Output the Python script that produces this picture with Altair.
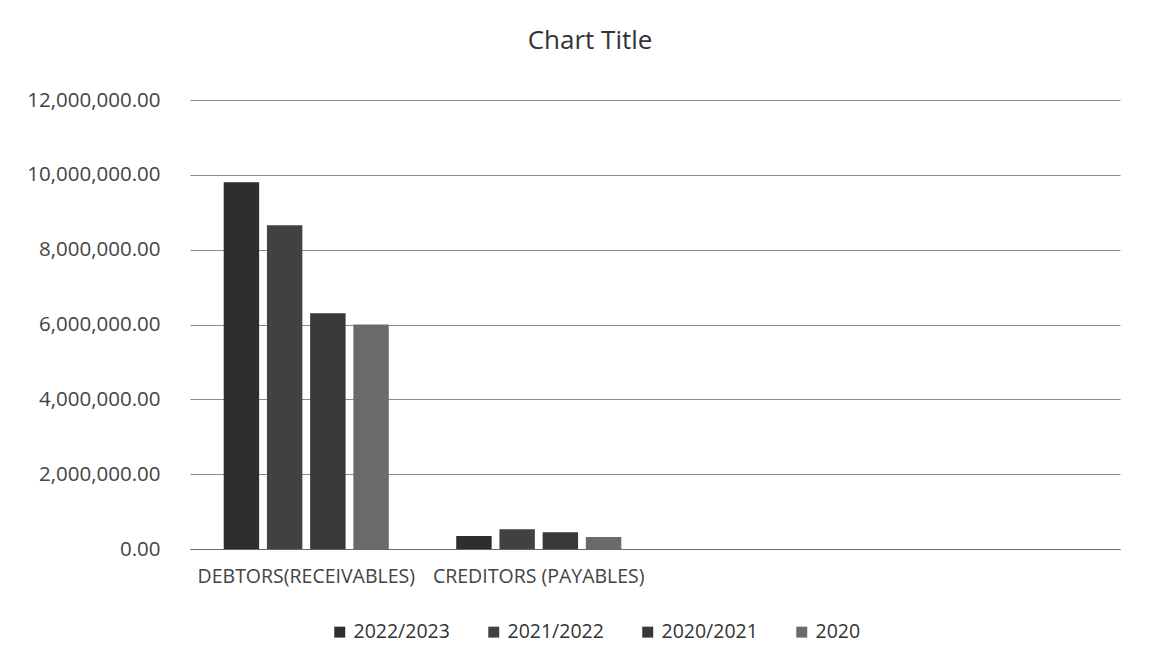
import altair as alt
import pandas as pd

categories = ["DEBTORS(RECEIVABLES)", "CREDITORS (PAYABLES)", " ", "  "]
series = ["2022/2023", "2021/2022", "2020/2021", "2020"]
debtors = [9800000, 8650000, 6300000, 6000000]
creditors = [350000, 530000, 450000, 320000]
colors = ["#2e2e2e", "#414141", "#383838", "#6a6a6a"]
y_ticks = [0, 2000000, 4000000, 6000000, 8000000, 10000000, 12000000]

rows = []
for s, d, c in zip(series, debtors, creditors):
    rows.append({"Category": categories[0], "Series": s, "Value": d})
    rows.append({"Category": categories[1], "Series": s, "Value": c})
df = pd.DataFrame(rows)

font = "Open Sans"

chart = alt.Chart(df).mark_bar().encode(
    x=alt.X("Category:N", sort=categories,
            scale=alt.Scale(domain=categories, paddingInner=0.29, paddingOuter=0.145),
            axis=alt.Axis(title=None, labelAngle=0, labelFontSize=19.5, labelColor="#444",
                          labelFont=font, ticks=False, domain=True, domainColor="#666",
                          labelPadding=18, labelLimit=400)),
    xOffset=alt.XOffset("Series:N", sort=series,
                        scale=alt.Scale(domain=series, paddingInner=0.18)),
    y=alt.Y("Value:Q",
            scale=alt.Scale(domain=[0, 12000000], nice=False),
            axis=alt.Axis(title=None, values=y_ticks, format=",.2f", labelFontSize=20.5,
                          labelColor="#444", labelFont=font, ticks=False, domain=False,
                          gridColor="#8c8c8c", gridWidth=1, labelPadding=30)),
    color=alt.Color("Series:N", sort=series,
                    scale=alt.Scale(domain=series, range=colors),
                    legend=alt.Legend(title=None, orient="none", direction="horizontal",
                                      legendX=140, legendY=522,
                                      symbolType="square", symbolSize=120,
                                      labelFontSize=19.5, labelFont=font, labelColor="#333",
                                      columnPadding=34, symbolStrokeWidth=0)),
).properties(
    width=930,
    height=449,
    title=alt.TitleParams("Chart Title", fontSize=26, font=font, fontWeight="normal",
                          color="#333", offset=36, dx=-65),
    autosize=alt.AutoSizeParams(type="none"),
    padding={"left": 182, "top": 92, "right": 37, "bottom": 100},
).configure(background="white").configure_view(stroke=None)

chart.save("out.html", embed_options={"renderer": "svg", "actions": False})
